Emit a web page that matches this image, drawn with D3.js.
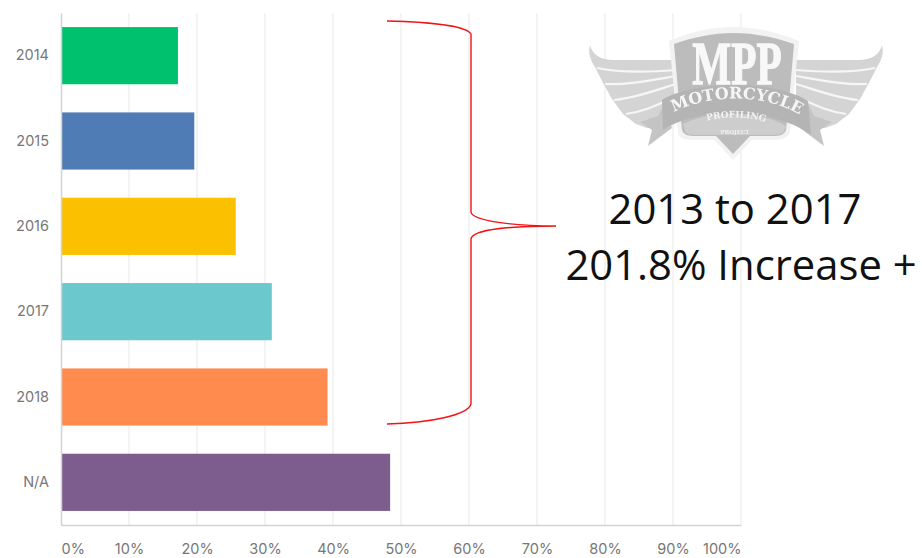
<!DOCTYPE html>
<html>
<head>
<meta charset="utf-8">
<script src="https://cdn.jsdelivr.net/npm/d3@7"></script>
<style>
  html, body { margin: 0; padding: 0; background: #fff; }
  svg { display: block; }
</style>
</head>
<body>
<svg width="922" height="558"></svg>
<script>
const years = ['2014', '2015', '2016', '2017', '2018', 'N/A'];
const percentages = [17.2, 19.6, 25.7, 31.0, 39.2, 48.4];
const barColors = ['#00c26e', '#507cb6', '#fbc000', '#6bc8cd', '#ff8b4f', '#7d5c8e'];
const xTicks = [0, 10, 20, 30, 40, 50, 60, 70, 80, 90, 100];
const noteLines = ['2013 to 2017', '201.8% Increase +'];

const svg = d3.select('svg');
const defs = svg.append('defs');

const x = d3.scaleLinear().domain([0, 100]).range([61, 741]);
const y = d3.scaleBand().domain(years).range([13, 525]).paddingInner(0.33).paddingOuter(0.165);

// grid
svg
  .selectAll('.grid')
  .data(xTicks.slice(1))
  .enter()
  .append('line')
  .attr('class', 'grid')
  .attr('x1', (d) => x(d))
  .attr('x2', (d) => x(d))
  .attr('y1', 13)
  .attr('y2', 525)
  .attr('stroke', '#ececec')
  .attr('stroke-width', 1.2);

// bars
svg
  .selectAll('.bar')
  .data(percentages)
  .enter()
  .append('rect')
  .attr('class', 'bar')
  .attr('x', x(0))
  .attr('y', (d, i) => y(years[i]))
  .attr('width', (d) => x(d) - x(0))
  .attr('height', y.bandwidth())
  .attr('fill', (d, i) => barColors[i]);

// axes
const xAxis = d3.axisBottom(x).tickValues(xTicks).tickSize(0).tickPadding(19).tickFormat((d) => d + '%');
const yAxis = d3.axisLeft(y).tickSize(0).tickPadding(12);

const xG = svg.append('g').attr('transform', 'translate(0,525)').call(xAxis);
const yG = svg.append('g').attr('transform', 'translate(61,0)').call(yAxis);

[xG, yG].forEach((g) => {
  g.select('.domain').attr('stroke', '#d2d2d2').attr('stroke-width', 1.5);
  g.selectAll('text')
    .attr('fill', '#777777')
    .style('font-family', 'Inter, sans-serif')
    .style('font-size', '14.5px');
});

// the end labels stay inside the plot width
xG.selectAll('.tick text')
  .attr('text-anchor', (d) => (d === 0 ? 'start' : d === 100 ? 'end' : 'middle'));

// red brace
svg
  .append('path')
  .attr('d', 'M387,21 C430,22 466,26 471,34 L471,212 C472,221 515,226 556,226 C515,226 472,229 471,239 L471,404 C468,415 430,423 387,424')
  .attr('fill', 'none')
  .attr('stroke', '#f01414')
  .attr('stroke-width', 1.4);

// note
svg
  .selectAll('.note')
  .data(noteLines)
  .enter()
  .append('text')
  .attr('class', 'note')
  .attr('x', (d, i) => (i === 0 ? 735 : 741))
  .attr('y', (d, i) => (i === 0 ? 224 : 280))
  .attr('text-anchor', 'middle')
  .attr('fill', '#111')
  .style('font-family', "'Open Sans', sans-serif")
  .style('font-size', '41.8px')
  .text((d) => d);

// logo
defs.append('filter').attr('id', 'soft').append('feGaussianBlur').attr('stdDeviation', 0.45);
const logo = svg.append('g').attr('class', 'logo').attr('filter', 'url(#soft)');
const mirror = 'translate(1472,0) scale(-1,1)';

const wingPath = 'M590,45 C592,54 600,60 614,60 L676,60 L676,112 L662,126 L647,128 L636,124 L623,114 L612,99 L603,83 L595,67 C590,60 588,52 590,45 Z';
const tailPath = 'M664,104 L658,116 L640,122 L652,130 L648,146 L672,128 Z';
const stripes = [
  'M597,68 C620,73 650,72 676,70',
  'M605,84 C628,85 652,80 676,76',
  'M614,100 C636,98 656,90 676,84',
  'M626,114 C642,112 655,106 668,100'
];

[wingPath, tailPath].forEach((p, i) => {
  [null, mirror].forEach((t) => {
    logo.append('path').attr('d', p).attr('fill', i === 0 ? '#d4d4d4' : '#c4c4c4').attr('transform', t);
  });
});
stripes.forEach((s) => {
  [null, mirror].forEach((t) => {
    logo
      .append('path')
      .attr('d', s)
      .attr('fill', 'none')
      .attr('stroke', '#f6f6f6')
      .attr('stroke-width', 2.2)
      .attr('transform', t);
  });
});

// shield
logo
  .append('path')
  .attr('d', 'M669,41 C690,32 712,27 733,27 C755,27 778,32 799,41 L794,90 L790,132 C788,138 782,140 774,140 L752,140 L733,160 L714,140 L692,140 C684,140 679,138 678,132 L674,90 Z')
  .attr('fill', '#f2f2f2');
logo
  .append('path')
  .attr('d', 'M674,44 C694,37 713,33 733,33 C754,33 773,37 794,44 L790,90 L786,130 C784,135 780,136 772,136 L750,136 L733,154 L716,136 L696,136 C688,136 684,135 682,130 L678,90 Z')
  .attr('fill', '#bcbcbc');
logo
  .append('text')
  .attr('transform', 'translate(737,84) scale(0.86,1.26)')
  .attr('text-anchor', 'middle')
  .attr('fill', '#f8f8f8')
  .attr('stroke', '#f8f8f8')
  .attr('stroke-width', 1)
  .style('font-family', "'Liberation Serif', serif")
  .style('font-weight', 700)
  .style('font-size', '48px')
  .text('MPP');

// ribbon
logo
  .append('path')
  .attr('d', 'M662,100 C695,80 775,80 808,101 L811,135 C775,108 698,106 663,130 Z')
  .attr('fill', '#b4b4b4');
// lower panel of the shield
logo
  .append('path')
  .attr('d', 'M683,124 C710,110 762,110 786,126 L784,131 C782,134 778,135 772,135 L696,135 C690,135 686,134 685,131 Z')
  .attr('fill', '#cdcdcd');

defs.append('path').attr('id', 'ribbonArc').attr('d', 'M666,117 C703,92 772,92 807,120');
defs.append('path').attr('id', 'profArc').attr('d', 'M691,127 C715,114 757,114 781,129');

logo
  .append('text')
  .attr('fill', '#f6f6f6')
  .style('font-family', "'DejaVu Serif', serif")
  .style('font-weight', 700)
  .style('font-size', '16px')
  .append('textPath')
  .attr('href', '#ribbonArc')
  .attr('startOffset', '50%')
  .attr('text-anchor', 'middle')
  .text('MOTORCYCLE');

logo
  .append('text')
  .attr('fill', '#f2f2f2')
  .style('font-family', "'DejaVu Serif', serif")
  .style('font-weight', 700)
  .style('font-size', '9px')
  .append('textPath')
  .attr('href', '#profArc')
  .attr('startOffset', '50%')
  .attr('text-anchor', 'middle')
  .text('PROFILING');

logo
  .append('text')
  .attr('x', 735)
  .attr('y', 134)
  .attr('text-anchor', 'middle')
  .attr('fill', '#f2f2f2')
  .style('font-family', "'DejaVu Serif', serif")
  .style('font-weight', 700)
  .style('font-size', '5.5px')
  .text('PROJECT');
</script>
</body>
</html>
